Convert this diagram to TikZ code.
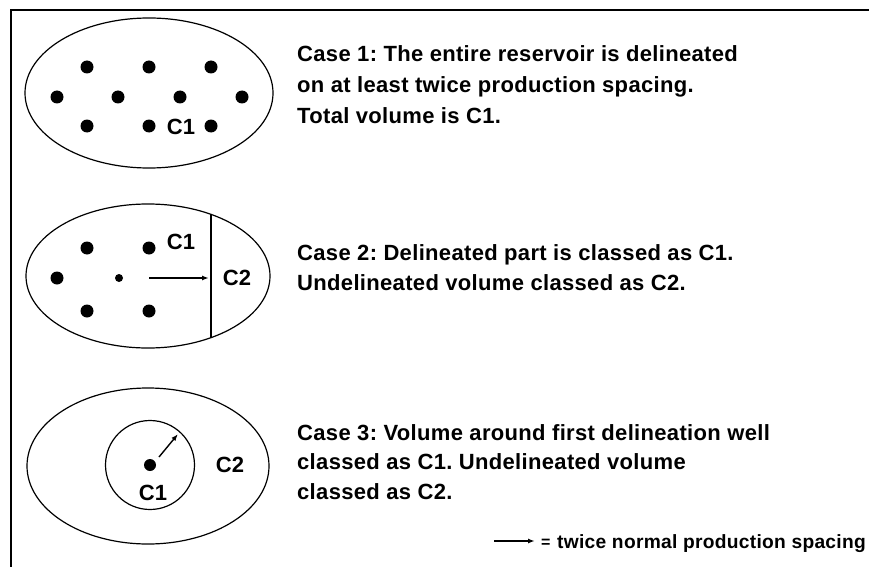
\documentclass[tikz,border=0pt]{standalone}
\usepackage{fontspec}
\setmainfont[LetterSpace=1.5]{Liberation Sans}
\usetikzlibrary{arrows.meta,shapes.geometric}
\frenchspacing
\begin{document}
\begin{tikzpicture}[x=1pt,y=-1pt,
  outline/.style={line width=1.2pt},
  well/.style={circle,fill=black,inner sep=0pt,minimum size=13pt},
  smallwell/.style={circle,fill=black,inner sep=0pt,minimum size=8pt},
  lbl/.style={font=\fontsize{22}{26}\selectfont\bfseries,inner sep=0pt},
  txt/.style={font=\fontsize{22}{26}\selectfont\bfseries,inner sep=0pt,anchor=base west},
  spacing/.style={-{Latex[length=7pt,width=5pt]},line width=1.4pt}]
\useasboundingbox (0,0) rectangle (869,567);
% frame
\draw[line width=1.8pt] (869,10) -- (11,10) -- (11,567);

% Case 1
\node[draw,outline,ellipse,minimum width=248pt,minimum height=150pt,inner sep=0pt] (r1) at (149,93) {};
\foreach \x/\y [count=\i] in {87/67,149/67,211/67,57/97,118/97,180/97,242/97,87/126,149/126,211/126}
  \node[well] (wa\i) at (\x,\y) {};
\node[lbl] (r1c1) at (181,127) {C1};
\node[txt] (t1a) at (297,62) {Case 1: The entire reservoir is delineated};
\node[txt] (t1b) at (297,92.5) {on at least twice production spacing.};
\node[txt] (t1c) at (297,123) {Total volume is C1.};

% Case 2
\node[draw,outline,ellipse,minimum width=244pt,minimum height=144pt,inner sep=0pt] (r2) at (148,276) {};
\coordinate (b2top) at (211,214.3);
\coordinate (b2bot) at (211,337.7);
\draw[line width=2pt] (b2top) -- (b2bot);
\foreach \x/\y [count=\i] in {87/248,149/248,57/278,87/311,149/311}
  \node[well] (wb\i) at (\x,\y) {};
\node[smallwell] (wb0) at (119,278) {};
\coordinate (a2s) at (149,278);
\coordinate (a2e) at (209,278);
\draw[spacing] (a2s) -- (a2e);
\node[lbl] (r2c1) at (181,242) {C1};
\node[lbl] (r2c2) at (237,278) {C2};
\node[txt] (t2a) at (297,260) {Case 2: Delineated part is classed as C1.};
\node[txt] (t2b) at (297,290) {Undelineated volume classed as C2.};

% Case 3
\node[draw,outline,ellipse,minimum width=242pt,minimum height=156pt,inner sep=0pt] (r3) at (148,466) {};
\node[draw,outline,circle,minimum size=89pt,inner sep=0pt] (z3) at (150,465) {};
\node[well,minimum size=12pt] (wc) at (150,465) {};
\coordinate (a3s) at (159,457);
\coordinate (a3e) at (178,434);
\draw[spacing] (a3s) -- (a3e);
\node[lbl] (r3c1) at (153,493) {C1};
\node[lbl] (r3c2) at (230,465) {C2};
\node[txt] (t3a) at (297,440) {Case 3: Volume around first delineation well};
\node[txt] (t3b) at (297,469.5) {classed as C1. Undelineated volume};
\node[txt] (t3c) at (297,499) {classed as C2.};

% legend
\coordinate (ls) at (494,541);
\coordinate (le) at (535,541);
\draw[spacing] (ls) -- (le);
\node[txt,font=\fontsize{16}{20}\selectfont\bfseries] (eq) at (541,547) {=};
\node[txt,font=\fontsize{19.2}{24}\selectfont\bfseries] (leg) at (557,548) {twice normal production spacing};
\end{tikzpicture}
\end{document}
